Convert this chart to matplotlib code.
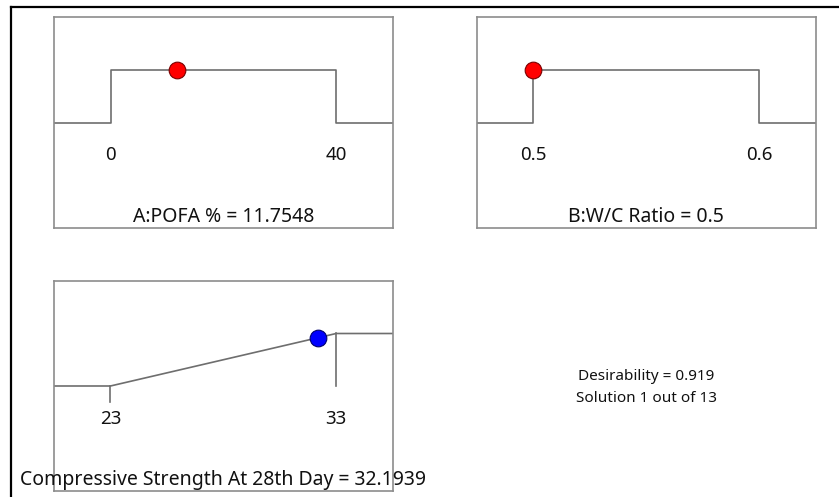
import matplotlib

matplotlib.use("Agg")
import matplotlib.pyplot as plt
from matplotlib.lines import Line2D

plt.rcParams["font.family"] = ["Noto Sans", "DejaVu Sans"]

# optimisation ramps: factor limits, chosen setting, desirability at that setting
pofa_limits = [0, 40]
pofa_value = 11.7548
pofa_desir = 1.0

wc_limits = [0.5, 0.6]
wc_value = 0.5
wc_desir = 1.0

cs_limits = [23, 33]
cs_value = 32.1939
cs_desir = 0.919

desirability = 0.919
solution_no, solution_total = 1, 13

BOX = "#8c8c8c"
CURVE = "#6e6e6e"
INK = "#111111"

fig = plt.figure(figsize=(8.39, 4.97), dpi=100)


def ramp_axes(rect, limits, label):
    lo, hi = limits
    pad = 0.25 * (hi - lo)
    ax = fig.add_axes(rect)
    ax.set_xlim(lo - pad, hi + pad)
    ax.set_ylim(-2, 2)
    ax.set_xticks([])
    ax.set_yticks([])
    for s in ax.spines.values():
        s.set_color(BOX)
        s.set_linewidth(1.2)
    ax.text((lo + hi) / 2, -1.8, label, ha="center", va="center",
            fontsize=14, color=INK, clip_on=False)
    return ax, lo, hi, pad


def tick_labels(ax, limits, fmt):
    for v in limits:
        ax.text(v, -0.62, fmt.format(v), ha="center", va="center",
                fontsize=13.5, color=INK)


# -- A: POFA % (in-range target, step shape) --
ax, lo, hi, pad = ramp_axes([0.0644, 0.5412, 0.404, 0.4245], pofa_limits,
                            f"A:POFA % = {pofa_value}")
ax.plot([lo - pad, lo, lo, hi, hi, hi + pad], [0, 0, 1, 1, 0, 0],
        color=CURVE, lw=1.2)
tick_labels(ax, pofa_limits, "{:g}")
ax.plot(pofa_value, pofa_desir, "o", ms=12, mfc="#ff0000", mec="#7a0000", mew=0.8)

# -- B: W/C ratio --
ax, lo, hi, pad = ramp_axes([0.5685, 0.5412, 0.4037, 0.4245], wc_limits,
                            f"B:W/C Ratio = {wc_value}")
ax.plot([lo - pad, lo, lo, hi, hi, hi + pad], [0, 0, 1, 1, 0, 0],
        color=CURVE, lw=1.2)
tick_labels(ax, wc_limits, "{:g}")
ax.plot(wc_value, wc_desir, "o", ms=12, mfc="#ff0000", mec="#7a0000", mew=0.8)

# -- C: compressive strength (maximise, linear ramp) --
ax, lo, hi, pad = ramp_axes([0.0644, 0.0121, 0.4035, 0.4225], cs_limits,
                            f"Compressive Strength At 28th Day = {cs_value}")
ax.plot([lo - pad, lo, hi, hi + pad], [0, 0, 1, 1], color=CURVE, lw=1.2)
ax.plot([lo, lo], [0, -0.3], color=CURVE, lw=1.2)
ax.plot([hi, hi], [1, 0], color=CURVE, lw=1.2)
tick_labels(ax, cs_limits, "{:g}")
ax.plot(cs_value, cs_desir, "o", ms=12, mfc="#0000ff", mec="#00006e", mew=0.8)

fig.text(646 / 839, 1 - 376 / 497, f"Desirability = {desirability}",
         ha="center", va="center", fontsize=11, color=INK)
fig.text(646 / 839, 1 - 398 / 497, f"Solution {solution_no} out of {solution_total}",
         ha="center", va="center", fontsize=11, color=INK)

# frame lines along the left and top edges
fig.add_artist(Line2D([11 / 839, 11 / 839], [0, 1 - 7 / 497], color="black", lw=1.6))
fig.add_artist(Line2D([11 / 839, 1], [1 - 7 / 497, 1 - 7 / 497], color="black", lw=1.6))

fig.savefig("out.png", dpi=100)
